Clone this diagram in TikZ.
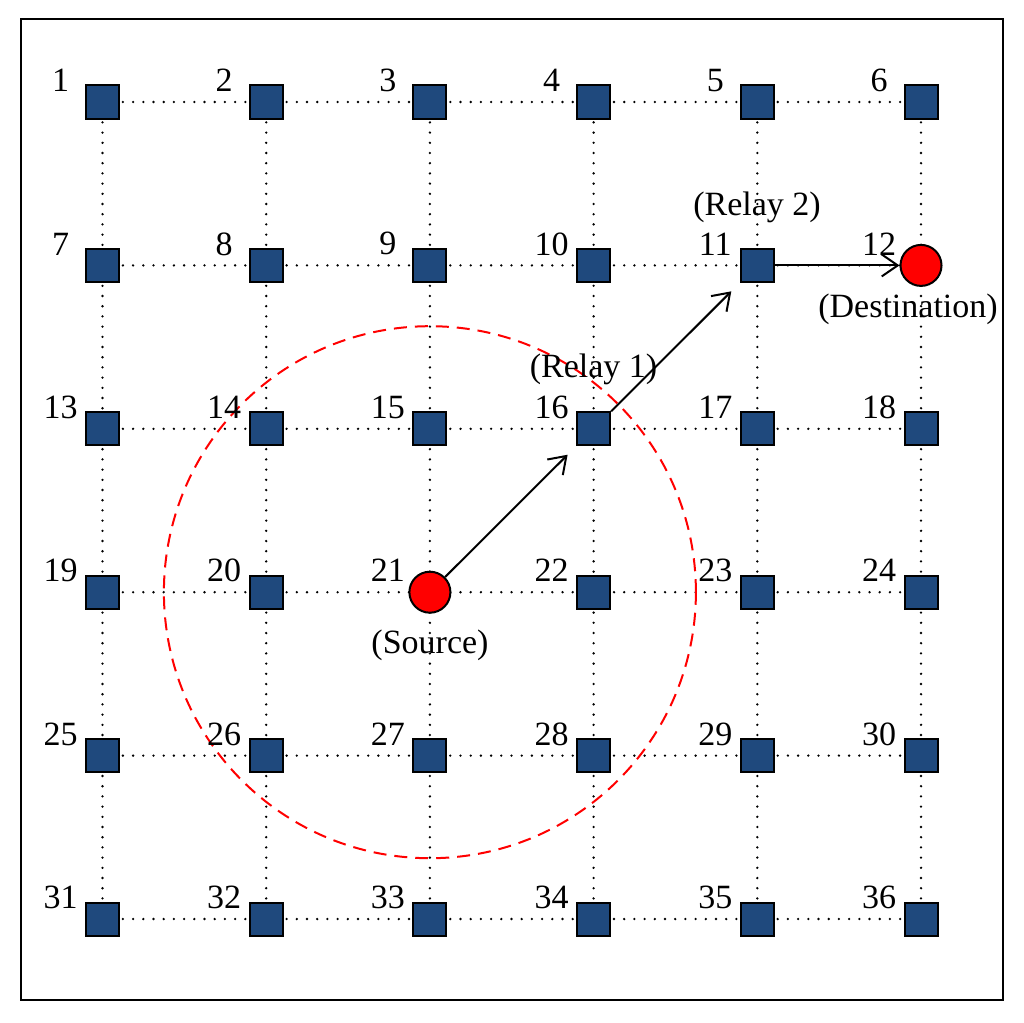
\documentclass[tikz,border=0pt]{standalone}
\usepackage{fontspec}
\setmainfont{Liberation Serif}
\usetikzlibrary{arrows.meta,backgrounds}
\definecolor{sqblue}{RGB}{31,73,125}
\begin{document}
\begin{tikzpicture}[x=1pt,y=-1pt,
  sq/.style={draw=black,line width=2pt,fill=sqblue,minimum size=33pt,inner sep=0pt,rectangle},
  rc/.style={draw=black,line width=2pt,fill=red,circle,minimum size=41pt,inner sep=0pt},
  numlbl/.style={inner sep=0pt,font=\fontsize{34}{40}\selectfont},
  txt/.style={inner sep=0pt,font=\fontsize{34}{40}\selectfont},
  gridline/.style={line width=2.6pt,line cap=round,dash pattern=on 0pt off 10.2pt},
  link/.style={line width=2pt,-{Straight Barb[length=16pt,width=22pt]}},
  rangecircle/.style={draw=red,line width=2pt,dash pattern=on 13pt off 8pt}
]
\useasboundingbox (0,0) rectangle (1024,1022);
\draw[line width=2pt] (21,19) rectangle (1003,1000);
\foreach \r in {0,...,5}{
  \foreach \c in {0,...,5}{
    \pgfmathtruncatemacro{\k}{6*\r+\c+1}
    \pgfmathsetmacro{\xx}{102.5+163.7*\c}
    \pgfmathsetmacro{\yy}{102+163.4*\r}
    \def\shp{sq}
    \ifnum\k=12 \def\shp{rc}\fi
    \ifnum\k=21 \def\shp{rc}\fi
    \node[\shp] (n\k) at (\xx,\yy) {};
    \node[numlbl] (l\k) at (\xx-42,\yy-21.5) {\k};
  }
}
\begin{scope}[on background layer]
  \foreach \r in {0,...,5}{
    \foreach \c in {0,...,4}{
      \pgfmathtruncatemacro{\a}{6*\r+\c+1}
      \pgfmathtruncatemacro{\b}{6*\r+\c+2}
      \draw[gridline] (n\a.center) -- (n\b.center);
    }
  }
  \foreach \r in {0,...,4}{
    \foreach \c in {0,...,5}{
      \pgfmathtruncatemacro{\a}{6*\r+\c+1}
      \pgfmathtruncatemacro{\b}{6*\r+\c+7}
      \draw[gridline] (n\a.center) -- (n\b.center);
    }
  }
  \draw[rangecircle] (n21.center) circle[radius=266pt];
\end{scope}
\draw[link,shorten >=12pt] (n21) -- (n16);
\draw[link,shorten >=12pt] (n16) -- (n11);
\draw[link] (n11) -- (n12);
\node[txt] (relay2) at (757,207.5) {(Relay 2)};
\node[txt] (relay1) at (593.5,369) {(Relay 1)};
\node[txt] (source) at (430,645) {(Source)};
\node[txt] (dest) at (908,309) {(Destination)};
\end{tikzpicture}
\end{document}
